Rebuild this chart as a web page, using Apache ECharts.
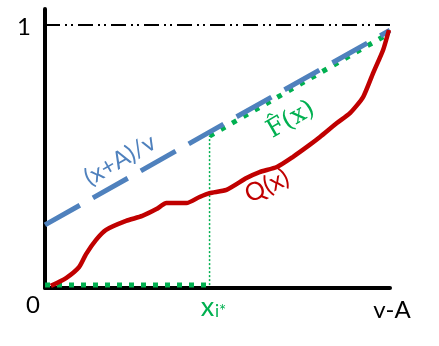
<!DOCTYPE html>
<html><head><meta charset="utf-8">
<script src="https://cdn.jsdelivr.net/npm/echarts@6/dist/echarts.min.js"></script>
<style>html,body{margin:0;padding:0;background:#fff}#c{width:439px;height:346px}</style>
</head><body><div id="c"></div>
<script>
// ---- data ----
const xStar = 0.477;
const yOne = 1;
const blueLine = [[0, 0.24], [1, 0.98]];
const greenFlat = [[0, 0.011], [0.477, 0.011]];
const greenDrop = [[0.477, 0.011], [0.477, 0.578]];
const greenRise = [[0.477, 0.578], [1, 0.97]];
const qX = [0.017, 0.061, 0.099, 0.119, 0.148, 0.177, 0.235, 0.282, 0.323, 0.352, 0.410, 0.448, 0.477, 0.526, 0.584, 0.622, 0.672, 0.718, 0.767, 0.797, 0.846, 0.884, 0.922, 0.951, 0.980, 0.997];
const qY = [0.008, 0.038, 0.080, 0.129, 0.183, 0.221, 0.255, 0.274, 0.300, 0.323, 0.323, 0.346, 0.361, 0.373, 0.418, 0.441, 0.460, 0.498, 0.544, 0.574, 0.627, 0.665, 0.726, 0.817, 0.905, 0.981];
const tickZero = '0';
const tickEnd = 'v-A';
const tickOne = '1';
const tickStarMain = 'x';
const tickStarSub = 'i*';
const lblBlue = '(x+A)/v';
const lblGreen = 'F\u0302(x)';
const lblRed = 'Q(x)';

const qCurve = qX.map((x, i) => [x, qY[i]]);

const BLUE = '#4F81BD', GREEN = '#00B050', RED = '#C00000';
const chart = echarts.init(document.getElementById('c'), null, {renderer: 'canvas'});
const yMax = 279 / 263;

chart.setOption({
  animation: false,
  backgroundColor: '#fff',
  grid: {left: 45, right: 49, top: 9, bottom: 58},
  xAxis: {type: 'value', min: 0, max: 1,
    axisLine: {show: true, onZero: false, lineStyle: {color: '#000', width: 4}},
    axisTick: {show: false}, axisLabel: {show: false}, splitLine: {show: false}},
  yAxis: {type: 'value', min: 0, max: yMax,
    axisLine: {show: true, onZero: false, lineStyle: {color: '#000', width: 4}},
    axisTick: {show: false}, axisLabel: {show: false}, splitLine: {show: false}},
  series: [
    {type: 'line', data: greenFlat, symbol: 'none', clip: false, z: 2,
      lineStyle: {color: GREEN, width: 5, type: [5, 7], cap: 'butt'},
      markLine: {silent: true, symbol: 'none', label: {show: false},
        lineStyle: {color: '#000', width: 2, type: [15, 5, 2, 4, 2, 5]},
        data: [
          [{coord: [0, yOne]}, {coord: [1, yOne]}],
          [{coord: [1, yOne]}, {coord: [1, -0.018]}]
        ]}},
    {type: 'line', data: greenDrop, symbol: 'none', z: 2,
      lineStyle: {color: GREEN, width: 1.5, type: [2, 2], cap: 'butt'}},
    {type: 'line', data: greenRise, symbol: 'none', z: 2,
      lineStyle: {color: GREEN, width: 5, type: [5, 8], cap: 'butt'}},
    {type: 'line', data: blueLine, symbol: 'none', z: 3,
      lineStyle: {color: BLUE, width: 5, type: [40, 15], cap: 'butt'}},
    {type: 'line', data: qCurve, symbol: 'none', smooth: 0.2, z: 4,
      lineStyle: {color: RED, width: 4.5, cap: 'butt', join: 'round'}}
  ]
});

const p = (x, y) => chart.convertToPixel({gridIndex: 0}, [x, y]);
const pOne = p(0, yOne), pZero = p(0, 0), pEnd = p(1, 0), pStar = p(xStar, 0);
const txt = (text, x, y, size, color, family, rot) => ({
  type: 'text', x: x, y: y, rotation: rot || 0, z: 10,
  style: {text: text, fill: color, font: size + 'px ' + family, align: 'center', verticalAlign: 'middle'}
});
const SANS = 'Lato, "Open Sans", sans-serif';
chart.setOption({
  graphic: [
    txt(tickOne, pOne[0] - 21, pOne[1] + 2, 24, '#000', SANS),
    txt(tickZero, pZero[0] - 12, pZero[1] + 17, 24, '#000', SANS),
    txt(tickEnd, pEnd[0] + 2, pEnd[1] + 22, 24, '#000', SANS),
    txt(tickStarMain, pStar[0] - 2, pStar[1] + 19, 27, GREEN, SANS),
    txt(tickStarSub, pStar[0] + 11, pStar[1] + 24, 17, GREEN, SANS),
    txt(lblBlue, 120, 160, 24, BLUE, SANS, Math.PI / 6),
    txt(lblGreen, 291, 120, 25, GREEN, '"DejaVu Serif", "Liberation Serif", serif', Math.PI / 6),
    txt(lblRed, 267, 186, 25, RED, SANS, Math.PI / 7)
  ]
});
</script>
</body></html>
